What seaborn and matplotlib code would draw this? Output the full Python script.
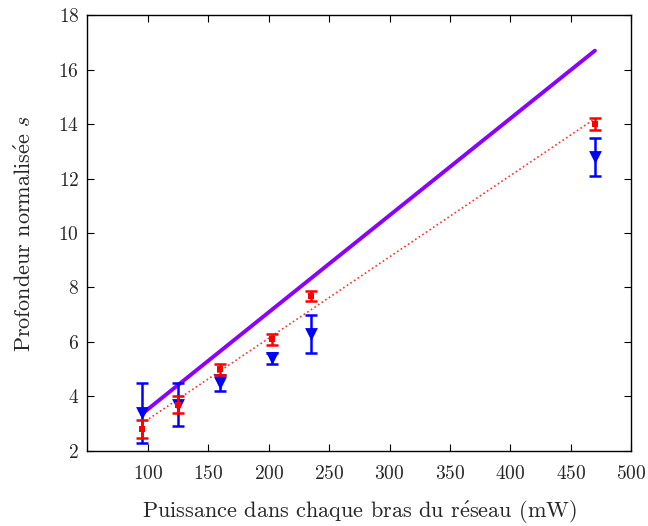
import matplotlib
matplotlib.use("Agg")
import matplotlib.pyplot as plt
import seaborn as sns
import numpy as np
import pandas as pd

# ---- data ----
power = [95, 125, 160, 203, 235, 470]
red_vals = [2.8, 3.7, 5.0, 6.1, 7.7, 14.0]
red_err = [0.33, 0.3, 0.2, 0.2, 0.18, 0.22]
blue_vals = [3.4, 3.7, 4.5, 5.4, 6.3, 12.8]
blue_err = [1.1, 0.8, 0.3, 0.2, 0.7, 0.7]
fit_x = [95, 470]
fit_purple = [3.35, 16.7]
fit_red = [3.0, 14.2]

xticks = [100, 150, 200, 250, 300, 350, 400, 450, 500]
yticks = [2, 4, 6, 8, 10, 12, 14, 16, 18]

sns.set_theme(style="white")
plt.rcParams['font.family'] = ['cmr10', 'DejaVu Serif']
plt.rcParams['mathtext.fontset'] = 'cm'
plt.rcParams['axes.formatter.use_mathtext'] = True
plt.rcParams['axes.unicode_minus'] = False

fig = plt.figure(figsize=(6.48, 5.26), dpi=100)
ax = fig.add_axes([0.135, 0.143, 0.839, 0.828])

df_fit = pd.DataFrame({"x": fit_x, "purple": fit_purple, "red": fit_red})
sns.lineplot(data=df_fit, x="x", y="purple", ax=ax, color="#8b00ff", linewidth=2.8, zorder=2)
sns.lineplot(data=df_fit, x="x", y="red", ax=ax, color="#ff3030", linewidth=1.2,
             linestyle=(0, (1, 1.6)), zorder=2)

ax.errorbar(power, blue_vals, yerr=blue_err, fmt='none', ecolor='blue',
            elinewidth=1.8, capsize=4.5, capthick=1.8, zorder=3)
ax.errorbar(power, red_vals, yerr=red_err, fmt='none', ecolor='red',
            elinewidth=1.8, capsize=4.5, capthick=1.8, zorder=4)
df_pts = pd.DataFrame({"x": power, "blue": blue_vals, "red": red_vals})
sns.scatterplot(data=df_pts, x="x", y="blue", ax=ax, marker='v', color='blue',
                s=85, edgecolor='blue', linewidth=0, zorder=3)
sns.scatterplot(data=df_pts, x="x", y="red", ax=ax, marker='s', color='red',
                s=24, edgecolor='red', linewidth=0, zorder=5)

ax.set_xlim(50, 500)
ax.set_ylim(2, 18)
ax.set_xticks(xticks)
ax.set_yticks(yticks)
ax.tick_params(direction='in', length=5, width=0.8, labelsize=14, color='black',
               top=True, right=True, bottom=True, left=True, pad=6)
ax.tick_params(axis='x', pad=10)
for s in ax.spines.values():
    s.set_color('black')
    s.set_linewidth(1.0)

ax.set_xlabel(r"Puissance dans chaque bras du r$\acute{\mathrm{e}}$seau (mW)", fontsize=16, labelpad=12)
ax.set_ylabel(r"Profondeur normalis$\acute{\mathrm{e}}$e $s$", fontsize=16, labelpad=17)

fig.savefig("out.png", dpi=100)
